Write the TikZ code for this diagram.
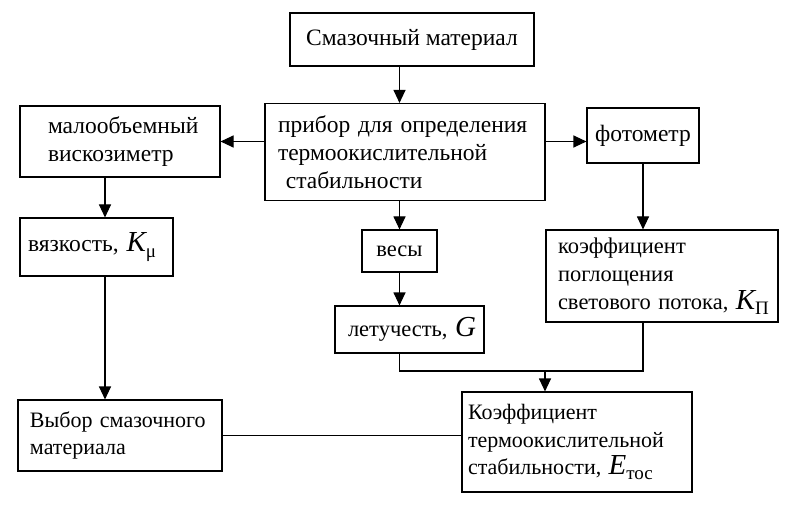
\documentclass[tikz,border=0pt]{standalone}
\usepackage{fontspec}
\setmainfont{Liberation Serif}
\usetikzlibrary{arrows.meta,calc}
\newcommand{\symb}[2]{{\fontsize{29}{28}\selectfont\itshape #1}\raisebox{-0.5ex}{\fontsize{19}{19}\selectfont #2}}
\begin{document}
\begin{tikzpicture}[x=1pt,y=-1pt,
  box/.style={draw,line width=1.1pt,inner ysep=0pt},
  big/.style={font=\fontsize{23.5}{28}\selectfont},
  mid/.style={font=\fontsize{22.5}{28}\selectfont},
  sml/.style={font=\fontsize{22}{27.5}\selectfont},
  arr/.style={line width=1.1pt,-{Triangle[length=13pt,width=12pt]}},
  ln/.style={line width=1.1pt}]
\useasboundingbox (0,0) rectangle (812,516);
\node[box,big,minimum width=244,minimum height=53,align=center] (b1) at (412,39.5) {Смазочный материал};
\node[box,big,minimum width=280,minimum height=97,inner xsep=13,text width=254,align=left] (b2) at (405,152) {прибор~для~определения\\термоокислительной\\\ стабильности};
\node[box,big,minimum width=200,minimum height=71,inner xsep=28,text width=144,align=left] (b3) at (120,141.5) {малообъемный\\вискозиметр};
\node[box,big,minimum width=112,minimum height=55,align=center] (b4) at (643,135.5) {фотометр};
\node[box,big,minimum width=153,minimum height=58,inner xsep=8,text width=137,align=left] (b5) at (96.5,247) {вязкость,~\symb{K}{μ}};
\node[box,mid,minimum width=75,minimum height=42,align=center] (b6) at (399.5,251) {весы};
\node[box,mid,minimum width=149,minimum height=47,inner xsep=13,text width=123,align=left] (b7) at (409.5,329.5) {летучесть,~\symb{G}{}};
\node[box,mid,minimum width=232,minimum height=92,inner xsep=12,text width=208,align=left] (b8) at (662,276) {коэффициент\\поглощения\\светового~потока,~\symb{K}{П}};
\node[box,sml,minimum width=230,minimum height=100,inner xsep=6,text width=218,align=left] (b9) at (577,442) {Коэффициент\\термоокислительной\\стабильности,~\symb{E}{тос}};
\node[box,sml,minimum width=204,minimum height=71,inner xsep=12,text width=180,align=left] (b10) at (120,435.5) {Выбор~смазочного\\материала};
\coordinate (colL) at (105,0);
\coordinate (jn) at (545,371);
\draw[arr] (b1.south -| b6.north) -- (b2.north -| b6.north);
\draw[arr] (b2.west |- b3.east) -- (b3.east);
\draw[arr] (b2.east |- b3.east) -- (b4.west |- b3.east);
\draw[arr] (b3.south -| colL) -- (b5.north -| colL);
\draw[arr] (b5.south -| colL) -- (b10.north -| colL);
\draw[arr] (b2.south -| b6.north) -- (b6.north);
\draw[arr] (b6.south) -- (b7.north -| b6.south);
\draw[arr] (b4.south) -- (b8.north -| b4.south);
\draw[ln] (b7.south -| b6.south) |- (jn) -| (b8.south -| b4.south);
\draw[arr] (jn) -- (b9.north -| jn);
\draw[ln] (b10.east) -- (b10.east -| b9.west);
\end{tikzpicture}
\end{document}
